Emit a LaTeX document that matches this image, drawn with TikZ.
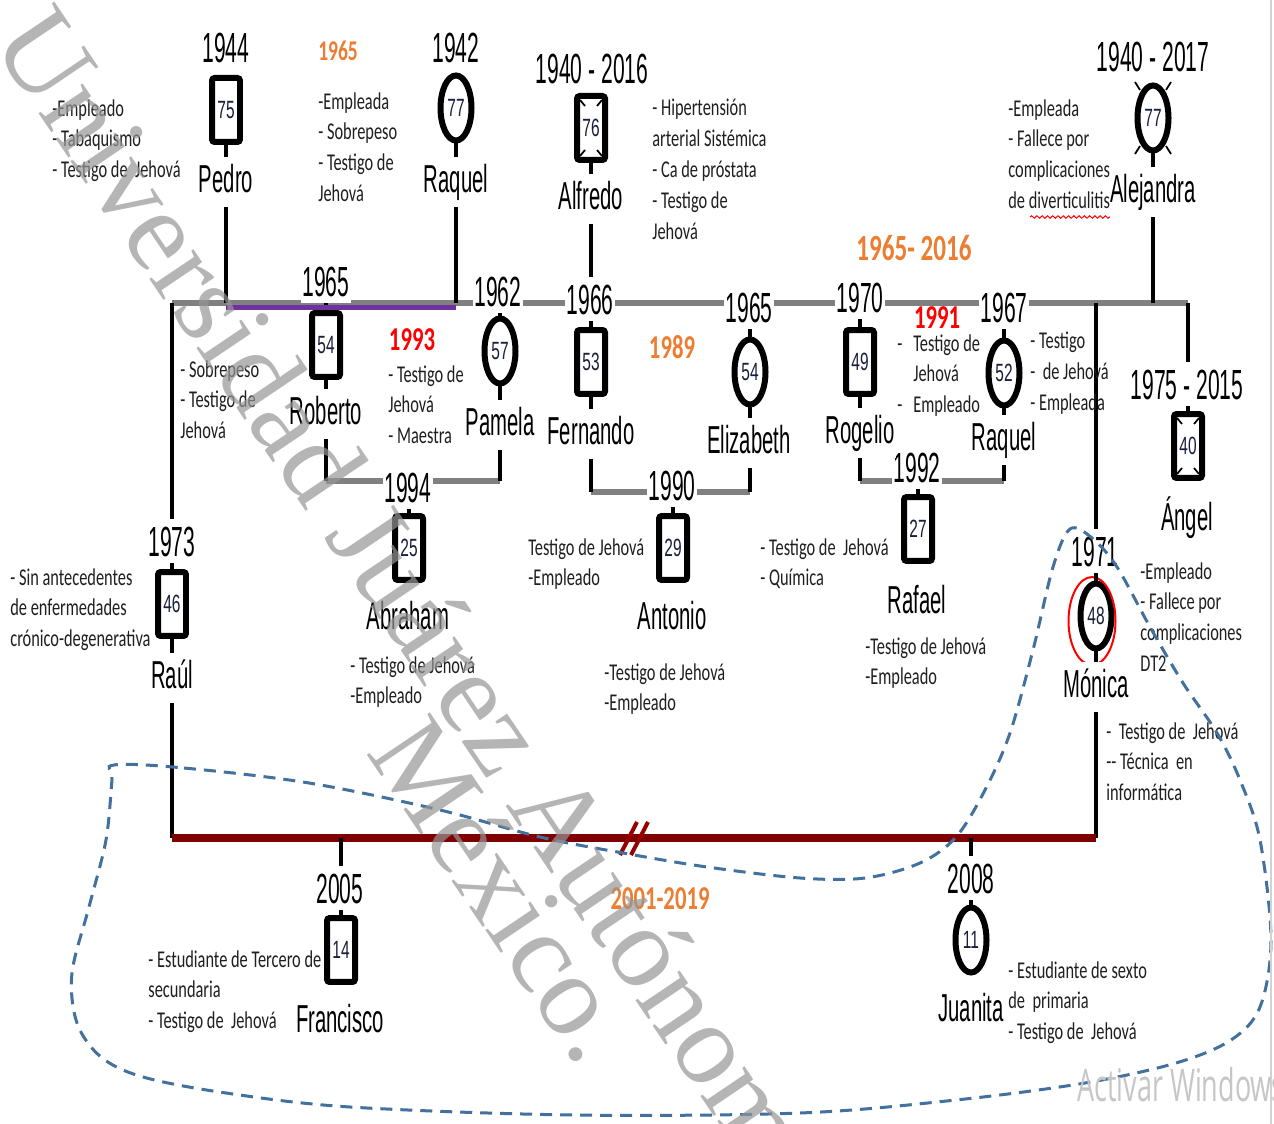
\documentclass[tikz,border=0pt]{standalone}
\usepackage{fontspec}
\usetikzlibrary{shapes.geometric,decorations.pathmorphing}
\newfontfamily\nmfont{Liberation Sans}[FakeStretch=0.52]
\newfontfamily\yrfont{Liberation Sans}[FakeStretch=0.50]
\newfontfamily\agefont{Liberation Sans}[FakeStretch=0.62]
\newfontfamily\anfont{Carlito}[FakeStretch=0.68]
\newfontfamily\wmfont{Liberation Serif}
\newfontfamily\winfont{Open Sans}[FakeStretch=0.6]
\definecolor{glc}{RGB}{128,128,128}
\definecolor{purp}{RGB}{112,48,160}
\definecolor{marc}{RGB}{127,0,0}
\definecolor{divc}{RGB}{150,0,0}
\definecolor{orng}{RGB}{237,125,49}
\definecolor{hhc}{RGB}{65,113,156}
\definecolor{agec}{RGB}{25,30,60}
\definecolor{wmc}{RGB}{150,150,150}
\tikzset{
  yr/.style={font=\yrfont\fontsize{24pt}{26pt}\selectfont, fill=white, inner xsep=1pt, inner ysep=4pt, text height=17.3pt, text depth=0pt},
  nm/.style={font=\nmfont\fontsize{22.2pt}{24pt}\selectfont, fill=white, inner xsep=1pt, inner ysep=4pt, text height=16.4pt, text depth=4.4pt},
  ann/.style={font=\anfont\fontsize{13.7pt}{17.6pt}\selectfont, align=left, anchor=north west, inner sep=0pt, text=black!88},
  olab/.style={font=\anfont\bfseries\fontsize{19pt}{21pt}\selectfont, text=orng, inner sep=0pt},
  rlab/.style={font=\anfont\bfseries\fontsize{19pt}{21pt}\selectfont, text=red, inner sep=0pt},
  male/.style={draw, line width=0.12cm, rounded corners=1.5pt, minimum width=0.56cm, minimum height=1.28cm, inner sep=0pt, fill=white, font=\agefont\fontsize{14.2pt}{16pt}\selectfont, text=agec},
  female/.style={ellipse, draw, line width=0.12cm, minimum width=0.62cm, minimum height=1.3cm, inner sep=0pt, fill=white, font=\agefont\fontsize{14.2pt}{16pt}\selectfont, text=agec},
  conn/.style={line width=0.09cm, black},
  gline/.style={line width=0.13cm, glc},
  pline/.style={line width=0.1cm, purp},
  mline/.style={line width=0.16cm, marc},
  dvline/.style={line width=0.08cm, divc},
  tick/.style={line width=0.035cm, black},
  hh/.style={hhc, line width=0.06cm, dash pattern=on 0.24cm off 0.16cm},
  wm/.style={font=\wmfont\fontsize{66pt}{72pt}\selectfont, text=wmc, text opacity=0.7, inner sep=0pt, rotate=-56, anchor=base west},
}
\begin{document}
\begin{tikzpicture}[x=0.02cm,y=-0.02cm]
\useasboundingbox (0,0) rectangle (1274,1124);
\clip (0,0) rectangle (1274,1124);
\fill[white] (0,0) rectangle (1274,1124);

% ---------- person symbols
\node[male]   (pedro)     at (226,110) {75};
\node[female] (raquelA)   at (456,108) {77};
\node[male]   (alfredo)   at (591,128) {76};
\node[female] (alejandra) at (1153,118) {77};
\node[male]   (roberto)   at (326,345) {54};
\node[female] (pamela)    at (500,351) {57};
\node[male]   (fernando)  at (591,362) {53};
\node[female] (elizabeth) at (750,372) {54};
\node[male]   (rogelio)   at (860,362) {49};
\node[female] (raquelB)   at (1004,373) {52};
\node[male]   (angel)     at (1188,446) {40};
\node[male]   (abraham)   at (409,548) {25};
\node[male]   (antonio)   at (673,548) {29};
\node[male]   (rafael)    at (918,529) {27};
\node[male]   (raul)      at (172,604) {46};
\node[female] (monica)    at (1096,616) {48};
\node[male]   (francisco) at (341,950) {14};
\node[female] (juanita)   at (971,940) {11};
\node[draw=red, ellipse, line width=0.04cm, minimum width=0.94cm, minimum height=1.76cm] (monicaring) at (1092,621) {};

% deceased marks
\foreach \sx in {-1,1} \foreach \sy in {-1,1} {
  \draw[tick] ([shift={(\sx*11,\sy*28)}]alfredo.center) -- ([shift={(\sx*6,\sy*22)}]alfredo.center);
  \draw[tick] ([shift={(\sx*11,\sy*28)}]angel.center) -- ([shift={(\sx*6,\sy*22)}]angel.center);
  \draw[tick] ([shift={(\sx*13,\sy*28)}]alejandra.center) -- ([shift={(\sx*18,\sy*36)}]alejandra.center);
}

% ---------- coordinates of family lines
\coordinate (mL) at (172,303);
\coordinate (mR) at (1188,303);
\coordinate (pk) at (0,308);
\coordinate (rp) at (0,481);
\coordinate (fe) at (0,492);
\coordinate (rr) at (0,481);
\coordinate (dv) at (0,838);

% main line and parents
\draw[gline] (mL) -- (mR);
\draw[conn] (mL) -- (raul.north);
\draw[conn] (mR) -- (angel.north);
\draw[conn] (pedro.south) -- (pedro.south |- mL);
\draw[conn] (raquelA.south) -- (raquelA.south |- mL);
\draw[conn] (alfredo.south) -- (alfredo.south |- mL);
\draw[conn] (alejandra.south) -- (alejandra.south |- mL);
\foreach \n in {roberto,pamela,fernando,elizabeth,rogelio,raquelB,monica}
  \draw[conn] (\n.north |- mL) -- (\n.north);

% couples of the second generation
\draw[gline] (roberto.south |- rp) -- (pamela.south |- rp);
\draw[conn] (roberto.south) -- (roberto.south |- rp);
\draw[conn] (pamela.south) -- (pamela.south |- rp);
\draw[conn] (abraham.north |- rp) -- (abraham.north);

\draw[gline] (fernando.south |- fe) -- (elizabeth.south |- fe);
\draw[conn] (fernando.south) -- (fernando.south |- fe);
\draw[conn] (elizabeth.south) -- (elizabeth.south |- fe);
\draw[conn] (antonio.north |- fe) -- (antonio.north);

\draw[gline] (rogelio.south |- rr) -- (raquelB.south |- rr);
\draw[conn] (rogelio.south) -- (rogelio.south |- rr);
\draw[conn] (raquelB.south) -- (raquelB.south |- rr);
\draw[conn] (rafael.north |- rr) -- (rafael.north);

% Raul - Monica
\draw[conn] (raul.south) -- (raul.south |- dv);
\draw[conn] (monica.south) -- (monica.south |- dv);
\draw[mline] (raul.south |- dv) -- (monica.south |- dv);
\draw[conn] (francisco.north |- dv) -- (francisco.north);
\draw[conn] (juanita.north |- dv) -- (juanita.north);
\draw[dvline] (620,855) -- (637,822);
\draw[dvline] (631,855) -- (648,822);

% ---------- years
\node[yr] (y1944) at (226,47) {1944};
\node[yr] (y1942) at (456,47) {1942};
\node[yr] (yalf)  at (592,68) {1940 - 2016};
\node[yr] (yale)  at (1153,56) {1940 - 2017};
\node[yr] (ym65)  at (326,281) {1965};
\node[yr] (y1962) at (498,291) {1962};
\node[yr] (y1966) at (590,299) {1966};
\node[yr] (y1965) at (749,307) {1965};
\node[yr] (y1970) at (860,297) {1970};
\node[yr] (y1967) at (1004,307) {1967};
\node[yr] (yang)  at (1187,384) {1975 - 2015};
\node[yr] (y1994) at (408,487) {1994};
\node[yr] (y1990) at (672,485) {1990};
\node[yr] (y1992) at (917,467) {1992};
\node[yr] (y1973) at (172,541) {1973};
\node[yr] (y1971) at (1095,551) {1971};
\node[yr] (y2005) at (340,888) {2005};
\node[yr] (y2008) at (971,878) {2008};

% marriage line of Pedro and Raquel
\draw[pline] (pedro.south |- pk) -- (raquelA.south |- pk);

% ---------- names
\node[nm] (npedro) at (226,182) {Pedro};
\node[nm] (nraqA)  at (456,182) {Raquel};
\node[nm] (nalf)   at (591,199) {Alfredo};
\node[nm] (nale)   at (1153,192) {Alejandra};
\node[nm] (nrob)   at (326,414) {Roberto};
\node[nm] (npam)   at (500,425) {Pamela};
\node[nm] (nfer)   at (591,434) {Fernando};
\node[nm] (neli)   at (749,443) {Elizabeth};
\node[nm] (nrog)   at (860,433) {Rogelio};
\node[nm] (nraqB)  at (1004,440) {Raquel};
\node[nm] (nang)   at (1187,520) {Ángel};
\node[nm] (nabr)   at (408,619) {Abraham};
\node[nm] (nant)   at (672,619) {Antonio};
\node[nm] (nraf)   at (917,603) {Rafael};
\node[nm] (nraul)  at (172,678) {Raúl};
\node[nm] (nmon)   at (1096,687) {Mónica};
\node[nm] (nfra)   at (340,1022) {Francisco};
\node[nm] (njua)   at (971,1011) {Juanita};

% ---------- coloured dates
\node[olab, font=\anfont\bfseries\fontsize{16.3pt}{18pt}\selectfont] (o1965) at (338,51) {1965};
\node[olab] (o1989) at (672,347) {1989};
\node[olab, font=\anfont\bfseries\fontsize{21pt}{23pt}\selectfont] (o6516) at (914,248) {1965- 2016};
\node[olab] (o0119) at (660,899) {2001-2019};
\node[rlab] (r1993) at (412,340) {1993};
\node[rlab] (r1991) at (937,318) {1991};

% ---------- notes
\node[ann] (a1) at (52,99) {-Empleado\\- Tabaquismo\\- Testigo de\ \ Jehová};
\node[ann] (a2) at (318,92) {-Empleada\\- Sobrepeso\\- Testigo de\\Jehová};
\node[ann] (a3) at (652,99) {- Hipertensión\\arterial Sistémica\\- Ca de próstata\\- Testigo de\\Jehová};
\node[ann] (a4) at (1008,99) {-Empleada\\- Fallece por\\complicaciones\\de diverticulitis};
\draw[red, line width=0.02cm, decorate, decoration={snake, amplitude=0.7pt, segment length=3pt}] (1030,217) -- (1110,217);
\node[ann] (a5) at (180,360) {- Sobrepeso\\- Testigo de\\Jehová};
\node[ann] (a6) at (388,365) {- Testigo de\\Jehová\\- Maestra};
\node[ann] (a7) at (897,334) {-\hspace{0.22cm}Testigo de\\\hspace{0.32cm}Jehová\\-\hspace{0.22cm}Empleado};
\node[ann] (a8) at (1030,332) {- Testigo\\-\ \ de Jehová\\- Empleada};
\node[ann] (a9) at (10,568) {- Sin antecedentes\\de enfermedades\\crónico-degenerativa};
\node[ann] (a10) at (350,656) {- Testigo de Jehová\\-Empleado};
\node[ann] (a11) at (528,538) {Testigo de Jehová\\-Empleado};
\node[ann] (a12) at (604,663) {-Testigo de Jehová\\-Empleado};
\node[ann] (a13) at (760,538) {- Testigo de\ \ Jehová\\- Química};
\node[ann] (a14) at (865,637) {-Testigo de Jehová\\-Empleado};
\node[ann] (a15) at (1140,562) {-Empleado\\- Fallece por\\complicaciones\\DT2};
\node[ann] (a16) at (1106,722) {-\ \ Testigo de\ \ Jehová\\-- Técnica\ \ en\\informática};
\node[ann] (a17) at (148,950) {- Estudiante de Tercero de\\secundaria\\- Testigo de\ \ Jehová};
\node[ann] (a18) at (1008,961) {- Estudiante de sexto\\de\ \ primaria\\- Testigo de\ \ Jehová};

% ---------- household boundary
\draw[hh] plot[smooth cycle, tension=0.55] coordinates {
 (114,765) (184,768) (309,783) (440,810) (540,837) (623,853) (707,867) (800,878)
 (865,878) (920,863) (956,837) (985,790) (1010,733) (1033,650) (1053,567) (1070,529)
 (1092,538) (1117,567) (1150,627) (1183,683) (1217,733) (1240,780) (1260,840)
 (1271,940) (1260,1007) (1231,1040) (1176,1063) (1085,1083) (956,1100) (800,1113)
 (573,1115) (350,1107) (226,1093) (143,1077) (101,1057) (77,1023) (72,973) (89,907)
 (106,840) (112,780)};

% right border line of the screenshot
\draw[gray!35, line width=0.03cm] (1271,0) -- (1271,1124);

% ---------- overlays of the screenshot
\node[wm] (wm1) at (-10,42) {Universidad Juárez Autónoma de Tabasco.};
\node[wm] (wm2) at (365,752) {México.};
\node[font=\winfont\fontsize{25.6pt}{28pt}\selectfont, text=gray!45, anchor=west, inner sep=0pt] (actw) at (1077,1085) {Activar Windows};
\end{tikzpicture}
\end{document}
